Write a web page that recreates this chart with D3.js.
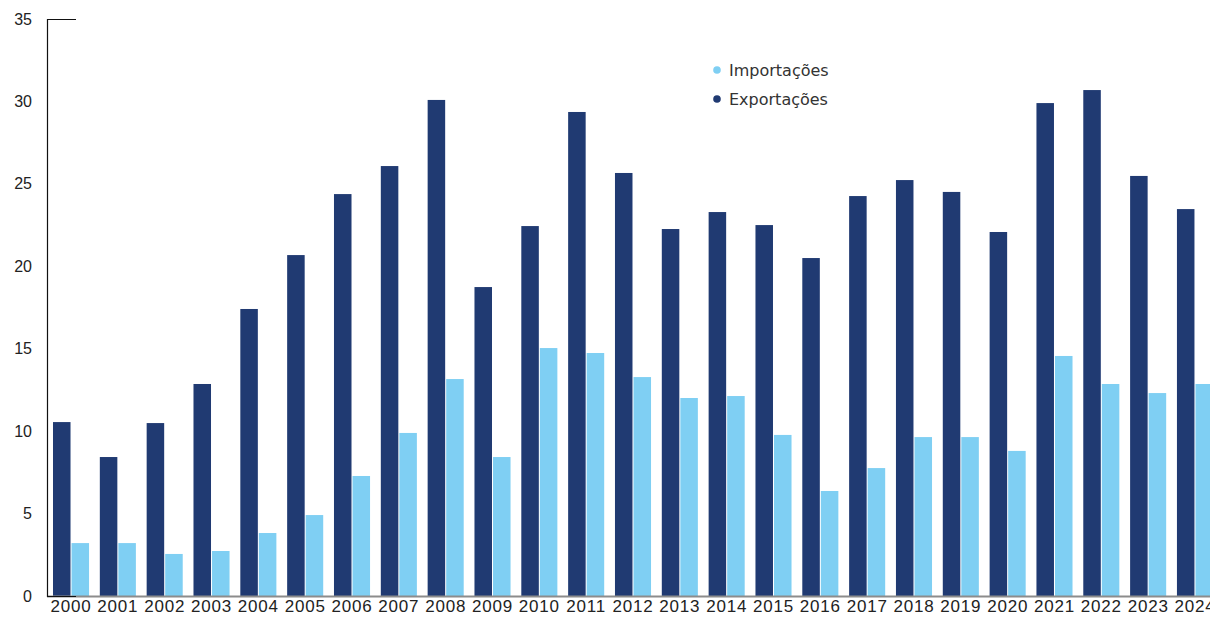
<!DOCTYPE html>
<html>
<head>
<meta charset="utf-8">
<script src="https://cdn.jsdelivr.net/npm/d3@7"></script>
<style>
  body { margin: 0; background: #fff; }
  svg { display: block; font-family: "DejaVu Sans", sans-serif; }
</style>
</head>
<body>
<div id="chart"></div>
<script>
const years = ["2000","2001","2002","2003","2004","2005","2006","2007","2008","2009","2010","2011","2012",
               "2013","2014","2015","2016","2017","2018","2019","2020","2021","2022","2023","2024"];
const exportacoes = [10.55, 8.43, 10.49, 12.86, 17.41, 20.68, 24.38, 26.08, 30.09, 18.74, 22.44, 29.36, 25.66,
                     22.26, 23.29, 22.5, 20.5, 24.26, 25.23, 24.51, 22.08, 29.9, 30.69, 25.48, 23.47];
const importacoes = [3.21, 3.21, 2.55, 2.73, 3.82, 4.91, 7.28, 9.89, 13.16, 8.43, 15.04, 14.74, 13.28,
                     12.01, 12.13, 9.77, 6.37, 7.76, 9.64, 9.64, 8.8, 14.56, 12.86, 12.31, 12.86];
const seriesNames = ["Exportações", "Importações"];
const yTicks = [0, 5, 10, 15, 20, 25, 30, 35];

const colors = { "Exportações": "#203a72", "Importações": "#7fcff3" };

const W = 1210, H = 617;
const margin = { top: 19, right: 0, bottom: 21, left: 47 };
const height = H - margin.top - margin.bottom;

const svg = d3.select("#chart").append("svg")
    .attr("width", W)
    .attr("height", H);

const g = svg.append("g")
    .attr("transform", `translate(${margin.left},${margin.top})`);

const data = years.map((y, i) => ({ year: y, "Exportações": exportacoes[i], "Importações": importacoes[i] }));

const x0 = d3.scaleBand()
    .domain(years)
    .range([0, 1172])
    .paddingInner(0.23)
    .paddingOuter(0.128);

const x1 = d3.scaleBand()
    .domain(seriesNames)
    .range([0, x0.bandwidth()])
    .paddingInner(0.055);

const y = d3.scaleLinear()
    .domain([0, 35])
    .range([height, 0]);

// bars
g.selectAll("g.group")
    .data(data)
    .enter().append("g")
    .attr("class", "group")
    .attr("transform", d => `translate(${x0(d.year)},0)`)
    .selectAll("rect")
    .data(d => seriesNames.map(k => ({ key: k, value: d[k] })))
    .enter().append("rect")
    .attr("x", d => x1(d.key))
    .attr("width", x1.bandwidth())
    .attr("y", d => y(d.value))
    .attr("height", d => height - y(d.value))
    .attr("fill", d => colors[d.key]);

// x axis
const xAxis = g.append("g")
    .attr("transform", `translate(0,${height})`)
    .call(d3.axisBottom(x0).tickSize(0).tickPadding(4));
xAxis.select(".domain").remove();
xAxis.append("line")
    .attr("x1", 0).attr("x2", W)
    .attr("y1", 0.5).attr("y2", 0.5)
    .attr("stroke", "#8c8c8c")
    .attr("stroke-width", 2);
xAxis.selectAll("text")
    .attr("font-size", "17px")
    .attr("letter-spacing", "0.8px")
    .attr("fill", "#222");

// y axis
const yAxis = g.append("g")
    .call(d3.axisLeft(y).tickValues(yTicks).tickSize(0).tickSizeOuter(-29).tickPadding(15));
yAxis.select(".domain")
    .attr("stroke", "#111")
    .attr("stroke-width", 1.2);
yAxis.selectAll("text")
    .attr("font-size", "16px")
    .attr("fill", "#222");

// legend
const legend = svg.append("g")
    .attr("transform", "translate(717,70)");
["Importações", "Exportações"].forEach((k, i) => {
    const row = legend.append("g").attr("transform", `translate(0,${i * 29})`);
    row.append("circle").attr("r", 3.8).attr("fill", colors[k]);
    row.append("text")
        .attr("x", 12)
        .attr("dy", "0.35em")
        .attr("font-size", "16px")
        .attr("fill", "#333")
        .text(k);
});
</script>
</body>
</html>
